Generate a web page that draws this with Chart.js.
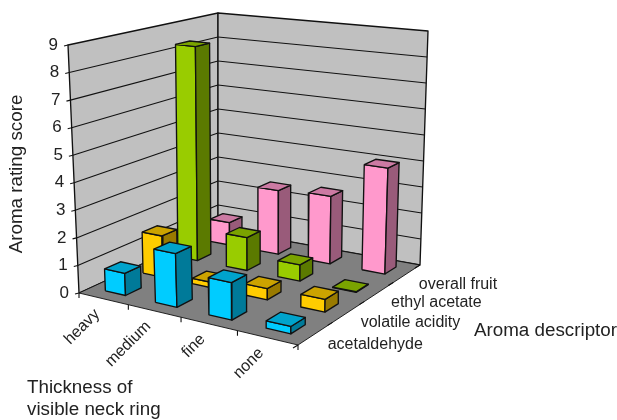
<!DOCTYPE html>
<html><head><meta charset="utf-8">
<style>html,body{margin:0;padding:0;background:#fff}#w{width:617px;height:420px;position:relative}canvas{display:block;filter:blur(0.35px)}</style>
<script src="https://cdn.jsdelivr.net/npm/chart.js@4"></script>
</head><body><div id="w"><canvas id="c" width="617" height="420"></canvas></div>
<script>
// ---- data ----
const thickness = ['heavy','medium','fine','none'];
const descriptors = ['acetaldehyde','volatile acidity','ethyl acetate','overall fruit'];
const valueTicks = [0,1,2,3,4,5,6,7,8,9];
const acetaldehyde = [0.8,1.9,1.3,0.25];
const volatileAcidity = [1.55,0.2,0.4,0.45];
const ethylAcetate = [8.3,1.25,0.6,0.02];
const overallFruit = [0.9,2.5,2.6,4.0];
const seriesValues = [acetaldehyde,volatileAcidity,ethylAcetate,overallFruit];

// ---- styles & frame geometry ----
const palette = [
 {front:'#00CCFF',side:'#007A99',top:'#00A3CC'},
 {front:'#FFCC00',side:'#997A00',top:'#CCA300'},
 {front:'#99CC00',side:'#5B7A00',top:'#7AA300'},
 {front:'#FF99CC',side:'#995B7A',top:'#CC7AA3'}];
const floorQuad = [[79,293],[298,345],[420,265],[218,229]];
const topQuad = [[68,45],[301,74],[428,31],[218,13]];
const zMax = 9, barLo = 0.30, barHi = 0.71, ink = '#111';

function homography(q){
  const [[x0,y0],[x1,y1],[x2,y2],[x3,y3]] = q;
  const dx1=x1-x2,dx2=x3-x2,sx=x0-x1+x2-x3,dy1=y1-y2,dy2=y3-y2,sy=y0-y1+y2-y3;
  const den=dx1*dy2-dx2*dy1, g=(sx*dy2-dx2*sy)/den, h=(dx1*sy-sx*dy1)/den;
  const a=x1-x0+g*x1,b=x3-x0+h*x3,d=y1-y0+g*y1,e=y3-y0+h*y3;
  return (u,v)=>{const w=g*u+h*v+1;return [(a*u+b*v+x0)/w,(d*u+e*v+y0)/w];};
}
const Hf = homography(floorQuad), Ht = homography(topQuad);
const nCat = thickness.length, nSer = descriptors.length;
function P(i,j,z){
  const f=Hf(i/nCat,j/nSer), t=Ht(i/nCat,j/nSer), k=z/zMax;
  return {x:f[0]+(t[0]-f[0])*k, y:f[1]+(t[1]-f[1])*k};
}
const shapes = [];
function poly(pts,fill,width){
  shapes.push({data:pts.concat([pts[0]]),showLine:true,fill:fill?'shape':false,
    backgroundColor:fill||'transparent',borderColor:ink,borderWidth:width||1.35,
    borderJoinStyle:'round',pointRadius:0,pointHoverRadius:0,tension:0,clip:false});
}
function seg(a,b,width){
  shapes.push({data:[a,b],showLine:true,fill:false,borderColor:ink,borderWidth:width||1.1,
    pointRadius:0,pointHoverRadius:0,tension:0,clip:false});
}
// walls and floor
poly([P(0,0,0),P(0,nSer,0),P(0,nSer,zMax),P(0,0,zMax)],'#C0C0C0');
poly([P(0,nSer,0),P(nCat,nSer,0),P(nCat,nSer,zMax),P(0,nSer,zMax)],'#C0C0C0');
poly([P(0,0,0),P(nCat,0,0),P(nCat,nSer,0),P(0,nSer,0)],'#808080',0.9);
valueTicks.forEach(z=>{
  if(z===0||z===zMax) return;
  seg(P(0,0,z),P(0,nSer,z)); seg(P(0,nSer,z),P(nCat,nSer,z));
});
// axis ticks
valueTicks.forEach(z=>{const a=P(0,0,z);seg({x:a.x-4,y:a.y+1},a);});
for(let i=0;i<=nCat;i++){const a=P(i,0,0);seg(a,{x:a.x,y:a.y+5});}
for(let j=0;j<=nSer;j++){const a=P(nCat,j,0);seg(a,{x:a.x-5,y:a.y+3});}
// bars, back to front
for(let j=nSer-1;j>=0;j--){
  for(let i=0;i<nCat;i++){
    const z=seriesValues[j][i], c=palette[j];
    const x0=i+barLo,x1=i+barHi,y0=j+barLo,y1=j+barHi;
    poly([P(x0,y0,0),P(x1,y0,0),P(x1,y0,z),P(x0,y0,z)],c.front);
    poly([P(x1,y0,0),P(x1,y1,0),P(x1,y1,z),P(x1,y0,z)],c.side);
    poly([P(x0,y0,z),P(x1,y0,z),P(x1,y1,z),P(x0,y1,z)],c.top);
  }
}
// the library paints dataset 0 on top, so reverse painter order
shapes.reverse();

const labelsPlugin = {
  id:'labels3d',
  afterDatasetsDraw(chart){
    const ctx=chart.ctx, sx=chart.scales.x, sy=chart.scales.y;
    const X=v=>sx.getPixelForValue(v), Y=v=>sy.getPixelForValue(v);
    ctx.save(); ctx.fillStyle='#222'; ctx.textBaseline='middle';
    const fam='"Liberation Sans",Arial,sans-serif';
    ctx.font='17px '+fam; ctx.textAlign='right';
    valueTicks.forEach(z=>{const p=P(0,0,z);ctx.fillText(String(z),X(p.x)-10,Y(p.y));});
    ctx.font='16px '+fam;
    thickness.forEach((t,i)=>{
      const p=P(i+0.5,0,0);
      ctx.save();ctx.translate(X(p.x)-6,Y(p.y)+13);ctx.rotate(-Math.PI/4);
      ctx.textAlign='right';ctx.fillText(t,0,0);ctx.restore();
    });
    ctx.textAlign='left';
    descriptors.forEach((d,j)=>{
      const p=P(nCat,j+0.5,0);
      ctx.fillText(d,X(p.x)+12,Y(p.y)+11);
    });
    ctx.font='18.8px '+fam;
    ctx.fillText('Aroma descriptor',474,331);
    ctx.fillText('Thickness of',27,388);
    ctx.fillText('visible neck ring',27,410);
    ctx.save();ctx.translate(17,174);ctx.rotate(-Math.PI/2);ctx.textAlign='center';
    ctx.fillText('Aroma rating score',0,0);ctx.restore();
    ctx.restore();
  }
};
new Chart(document.getElementById('c'),{
  type:'scatter',
  data:{datasets:shapes},
  options:{responsive:false,animation:false,
    layout:{padding:0},
    plugins:{legend:{display:false},tooltip:{enabled:false}},
    scales:{x:{type:'linear',min:0,max:617,display:false},
            y:{type:'linear',min:0,max:420,reverse:true,display:false}}},
  plugins:[labelsPlugin]
});
</script></body></html>
